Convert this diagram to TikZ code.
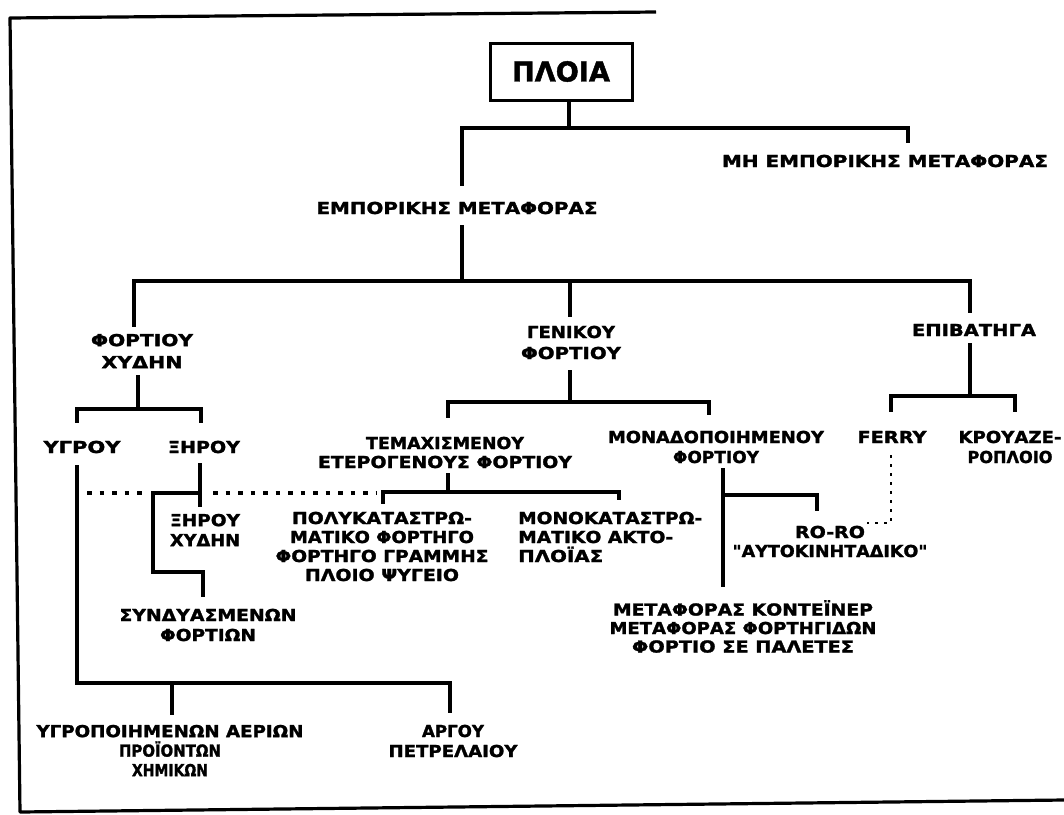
\documentclass[tikz,border=0pt]{standalone}
\usepackage{fontspec}
\usepackage{graphicx}
\usetikzlibrary{calc}
\newfontfamily\lblfont{DejaVu Sans}[FakeBold=1.6]
\newcommand\W[2]{\resizebox{#1pt}{\height}{#2}}
\tikzset{
  lbl/.style={font=\lblfont\bfseries\fontsize{16.5}{19.5}\selectfont, align=center, inner sep=0pt},
  conn/.style={line width=3.3pt},
  dotline/.style={line width=4pt, dash pattern=on 4.5pt off 8pt},
  thindot/.style={line width=1.8pt, dash pattern=on 3pt off 6pt},
  frame/.style={line width=3.2pt, line join=round}
}
\begin{document}
\begin{tikzpicture}[x=1pt,y=-1pt]
\useasboundingbox (0,0) rectangle (1064,814);
\fill[white] (0,0) rectangle (1064,814);
% page frame
\draw[frame] (656,12) -- (10,18) -- (20,812) -- (1064,800);

% nodes
\node[lbl, draw, line width=3pt, minimum width=142pt, minimum height=57pt,
      font=\lblfont\bfseries\fontsize{27.4}{30}\selectfont] (ploia) at (561,71.5) {\W{98}{ΠΛΟΙΑ}};
\node[lbl] (mh)  at (885,161) {\W{326}{ΜΗ ΕΜΠΟΡΙΚΗΣ ΜΕΤΑΦΟΡΑΣ}};
\node[lbl] (emp) at (457,208) {\W{281}{ΕΜΠΟΡΙΚΗΣ ΜΕΤΑΦΟΡΑΣ}};
\node[lbl, font=\lblfont\bfseries\fontsize{16.5}{22}\selectfont] (fx) at (142,351) {\W{102}{ΦΟΡΤΙΟΥ}\\\W{81}{ΧΥΔΗΝ}};
\node[lbl, font=\lblfont\bfseries\fontsize{16.5}{21}\selectfont] (gen) at (571,342.5) {\W{88}{ΓΕΝΙΚΟΥ}\\\W{100}{ΦΟΡΤΙΟΥ}};
\node[lbl] (epi) at (974,330) {\W{124}{ΕΠΙΒΑΤΗΓΑ}};
\node[lbl] (ygrou) at (82,447) {\W{77}{ΥΓΡΟΥ}};
\node[lbl] (xirou) at (204,447) {\W{72}{ΞΗΡΟΥ}};
\node[lbl, font=\lblfont\bfseries\fontsize{16.5}{19}\selectfont] (tem) at (445,452.5) {\W{158}{ΤΕΜΑΧΙΣΜΕΝΟΥ}\\\W{254}{ΕΤΕΡΟΓΕΝΟΥΣ ΦΟΡΤΙΟΥ}};
\node[lbl, font=\lblfont\bfseries\fontsize{16.5}{20}\selectfont] (mon) at (716,447) {\W{216}{ΜΟΝΑΔΟΠΟΙΗΜΕΝΟΥ}\\\W{86}{ΦΟΡΤΙΟΥ}};
\node[lbl] (ferry) at (892,437) {\W{69}{FERRY}};
\node[lbl, font=\lblfont\bfseries\fontsize{16.5}{20}\selectfont] (krou) at (1010,447) {\W{103}{ΚΡΟΥΑΖΕ-}\\\W{85}{ΡΟΠΛΟΙΟ}};
\node[lbl, font=\lblfont\bfseries\fontsize{16.5}{20}\selectfont] (xx) at (205,530) {\W{70}{ΞΗΡΟΥ}\\\W{70}{ΧΥΔΗΝ}};
\node[lbl, font=\lblfont\bfseries\fontsize{16.5}{19}\selectfont] (poly) at (382,546.5) {\W{180}{ΠΟΛΥΚΑΤΑΣΤΡΩ-}\\\W{184}{ΜΑΤΙΚΟ ΦΟΡΤΗΓΟ}\\\W{213}{ΦΟΡΤΗΓΟ ΓΡΑΜΜΗΣ}\\\W{154}{ΠΛΟΙΟ ΨΥΓΕΙΟ}};
\node[lbl, align=left, anchor=west, font=\lblfont\bfseries\fontsize{16.5}{19}\selectfont] (mono) at (518,537) {\W{184}{ΜΟΝΟΚΑΤΑΣΤΡΩ-}\\\W{155}{ΜΑΤΙΚΟ ΑΚΤΟ-}\\\W{85}{ΠΛΟΪΑΣ}};
\node[lbl, font=\lblfont\bfseries\fontsize{16.5}{19}\selectfont] (roro) at (830,541.5) {\W{70}{RO-RO}\\\W{195}{"ΑΥΤΟΚΙΝΗΤΑΔΙΚΟ"}};
\node[lbl, font=\lblfont\bfseries\fontsize{16.5}{20}\selectfont] (synd) at (208,625) {\W{177}{ΣΥΝΔΥΑΣΜΕΝΩΝ}\\\W{96}{ΦΟΡΤΙΩΝ}};
\node[lbl, font=\lblfont\bfseries\fontsize{16.5}{18.5}\selectfont] (meta) at (743,626.5) {\W{260}{ΜΕΤΑΦΟΡΑΣ ΚΟΝΤΕΪΝΕΡ}\\\W{267}{ΜΕΤΑΦΟΡΑΣ ΦΟΡΤΗΓΙΔΩΝ}\\\W{222}{ΦΟΡΤΙΟ ΣΕ ΠΑΛΕΤΕΣ}};
\node[lbl, font=\lblfont\bfseries\fontsize{16.5}{19.5}\selectfont] (ygrop) at (170,750.5) {\W{267}{ΥΓΡΟΠΟΙΗΜΕΝΩΝ ΑΕΡΙΩΝ}\\\W{102}{ΠΡΟΪΟΝΤΩΝ}\\\W{76}{ΧΗΜΙΚΩΝ}};
\node[lbl, font=\lblfont\bfseries\fontsize{16.5}{20}\selectfont] (argou) at (453,741) {\W{62}{ΑΡΓΟΥ}\\\W{129}{ΠΕΤΡΕΛΑΙΟΥ}};

% junction coordinates
\coordinate (b1) at (569,128);
\coordinate (e1) at (462,128);
\coordinate (e2) at (908,128);
\coordinate (e3) at (462,281);
\coordinate (c1) at (134,281);
\coordinate (c2) at (970,281);
\coordinate (c3) at (570,281);
\coordinate (d0) at (138,409);
\coordinate (d1) at (77,409);
\coordinate (d2) at (201,409);
\coordinate (f1) at (77,683);
\coordinate (f2) at (450,683);
\coordinate (f3) at (172,683);
\coordinate (g0) at (200,463);
\coordinate (g1) at (200,493);
\coordinate (h1) at (153,493);
\coordinate (h2) at (153,572);
\coordinate (h3) at (203,572);
\coordinate (i1) at (87,493);
\coordinate (i2) at (146,493);
\coordinate (i3) at (213,493);
\coordinate (i4) at (377,493);
\coordinate (j1) at (383,492);
\coordinate (j2) at (619,492);
\coordinate (j3) at (448,492);
\coordinate (k0) at (570,402);
\coordinate (k1) at (448,402);
\coordinate (k2) at (709,402);
\coordinate (l0) at (723,468);
\coordinate (l1) at (723,495);
\coordinate (l2) at (817,495);
\coordinate (m0) at (970,396);
\coordinate (m1) at (891,396);
\coordinate (m2) at (1015,396);
\coordinate (n0) at (891,523);
\coordinate (n1) at (867,523);

% connectors
\draw[conn] (ploia.south -| b1) -- (b1);
\draw[conn] ($(emp.north -| e1)+(0,-16)$) -- (e1) -- (e2) -- ($(mh.north -| e2)+(0,-12)$);
\draw[conn] ($(emp.south -| e3)+(0,11)$) -- (e3);
\draw[conn] ($(fx.north -| c1)+(0,-7)$) -- (c1) -- (c2) -- ($(epi.north -| c2)+(0,-11)$);
\draw[conn] (c3) -- ($(gen.north -| c3)+(0,-9)$);
\draw[conn] ($(fx.south -| d0)+(0,7)$) -- (d0);
\draw[conn] ($(ygrou.north -| d1)+(0,-18)$) -- (d1) -- (d2) -- ($(xirou.north -| d2)+(0,-18)$);
\draw[conn] ($(ygrou.south -| f1)+(0,12)$) -- (f1) -- (f2) -- ($(argou.north -| f2)+(0,-12)$);
\draw[conn] (f3) -- ($(ygrop.north -| f3)+(0,-10)$);
\draw[conn] (g0) -- ($(xx.north -| g0)+(0,-7)$);
\draw[conn] (g1) -- (h1) -- (h2) -- (h3) -- ($(synd.north -| h3)+(0,-12)$);
\draw[dotline] (i1) -- (i2);
\draw[dotline] (i3) -- (i4);
\draw[conn] ($(poly.north -| j1)+(0,-8)$) -- (j1) -- (j2) -- ($(mono.north -| j2)+(0,-12)$);
\draw[conn] (j3) -- ($(tem.south -| j3)+(0,5)$);
\draw[conn] ($(gen.south -| k0)+(0,11)$) -- (k0);
\draw[conn] ($(tem.north -| k1)+(0,-19)$) -- (k1) -- (k2) -- ($(mon.north -| k2)+(0,-16)$);
\draw[conn] (l0) -- ($(meta.north -| l0)+(0,-13)$);
\draw[conn] (l1) -- (l2) -- ($(roro.north -| l2)+(0,-15)$);
\draw[conn] ($(epi.south -| m0)+(0,7)$) -- (m0);
\draw[conn] ($(ferry.north -| m1)+(0,-19)$) -- (m1) -- (m2) -- ($(krou.north -| m2)+(0,-19)$);
\draw[thindot] ($(ferry.south -| n0)+(0,12)$) -- (n0) -- (n1);
\end{tikzpicture}
\end{document}
